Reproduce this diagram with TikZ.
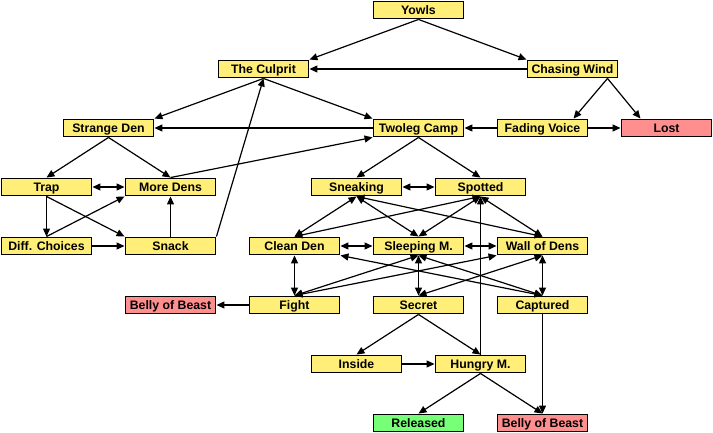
\documentclass[tikz,border=0pt]{standalone}
\usepackage{fontspec}
\setmainfont{Liberation Sans}
\usetikzlibrary{arrows.meta}

\definecolor{boxyellow}{RGB}{255,238,119}
\definecolor{boxred}{RGB}{255,142,142}
\definecolor{boxgreen}{RGB}{119,255,119}

\begin{document}
\begin{tikzpicture}[
    x=1pt, y=-1pt,
    every node/.style={font=\fontsize{12.3}{14}\selectfont\bfseries},
    st/.style={draw, line width=1.4pt, fill=boxyellow, minimum width=90.5pt, minimum height=17.5pt, inner sep=0pt, text height=8.8pt, text depth=0pt, align=center},
    bad/.style={st, fill=boxred},
    good/.style={st, fill=boxgreen},
    a/.style={-{Triangle[length=8pt,width=7pt]}, line width=1.2pt},
    b/.style={{Triangle[length=8pt,width=7pt]}-{Triangle[length=8pt,width=7pt]}, line width=1.2pt}
]
\useasboundingbox (0,0) rectangle (713,433);
% top
\node[st] (yowls)   at (418.5,10)  {Yowls};
\node[st] (culprit) at (263.5,69)  {The Culprit};
\node[st] (chasing) at (572.5,69)  {Chasing Wind};
\node[st] (strange) at (108.5,128) {Strange Den};
\node[st] (twoleg)  at (418.5,128) {Twoleg Camp};
\node[st] (fading)  at (542.5,128) {Fading Voice};
\node[bad] (lost)   at (666.5,128) {Lost};
% left group
\node[st] (trap)     at (46.5,187)  {Trap};
\node[st] (moredens) at (170.5,187) {More Dens};
\node[st] (diff)     at (46.5,246)  {Diff. Choices};
\node[st] (snack)    at (170.5,246) {Snack};
% middle group
\node[st] (sneaking) at (356.5,187) {Sneaking};
\node[st] (spotted)  at (480.5,187) {Spotted};
\node[st] (clean)    at (294.5,246) {Clean Den};
\node[st] (sleeping) at (418.5,246) {Sleeping M.};
\node[st] (wall)     at (542.5,246) {Wall of Dens};
\node[bad] (bellyA)  at (170.5,305) {Belly of Beast};
\node[st] (fight)    at (294.5,305) {Fight};
\node[st] (secret)   at (418.5,305) {Secret};
\node[st] (captured) at (542.5,305) {Captured};
% bottom
\node[st] (inside)   at (356.5,364) {Inside};
\node[st] (hungry)   at (480.5,364) {Hungry M.};
\node[good] (released) at (418.5,423) {Released};
\node[bad] (bellyB)  at (542.5,423) {Belly of Beast};

\draw[a] (yowls.south)--(culprit.north east); \draw[a] (yowls.south)--(chasing.north west);
\draw[a] (chasing.west)--(culprit.east);
\draw[a] ([xshift=35pt]chasing.south)--([xshift=31pt]fading.north);
\draw[a] ([xshift=35pt]chasing.south)--([xshift=-26pt]lost.north);
\draw[a] (fading.west)--(twoleg.east); \draw[a] (fading.east)--(lost.west);
\draw[a] (culprit.south)--(strange.north east); \draw[a] (culprit.south)--(twoleg.north west);
\draw[a] (twoleg.west)--(strange.east);
\draw[a] (strange.south)--(trap.north); \draw[a] (strange.south)--(moredens.north);
\draw[a] (moredens.north)--(twoleg.south west);
\draw[b] (trap.east)--(moredens.west);
\draw[a] (trap.south)--(diff.north); \draw[a] (trap.south)--(snack.north west);
\draw[a] (diff.north)--(moredens.south west); \draw[a] (diff.east)--(snack.west);
\draw[a] (snack.north)--(moredens.south);
\draw[a] (snack.north east)--(culprit.south);
\draw[a] (twoleg.south)--(sneaking.north); \draw[a] (twoleg.south)--(spotted.north);
\draw[b] (sneaking.east)--(spotted.west);
\draw[b] (sneaking.south)--(clean.north); \draw[b] (sneaking.south)--(sleeping.north);
\draw[b] (sneaking.south)--(wall.north);
\draw[b] (spotted.south)--(clean.north); \draw[b] (spotted.south)--(sleeping.north);
\draw[b] (spotted.south)--(wall.north);
\draw[b] (clean.east)--(sleeping.west); \draw[b] (sleeping.east)--(wall.west);
\draw[b] (clean.south)--(fight.north);
\draw[b] (fight.north)--(sleeping.south); \draw[b] (fight.north)--(wall.south west);
\draw[b] (captured.north)--(clean.south east); \draw[b] (captured.north)--(sleeping.south);
\draw[b] (sleeping.south)--(secret.north); \draw[b] (wall.south)--(secret.north);
\draw[b] (wall.south)--(captured.north);
\draw[a] (fight.west)--(bellyA.east);
\draw[a] (secret.south)--(inside.north); \draw[a] (secret.south)--(hungry.north);
\draw[a] (inside.east)--(hungry.west);
\draw[a] (hungry.north)--(spotted.south);
\draw[a] (hungry.south)--(released.north); \draw[a] (hungry.south)--(bellyB.north);
\draw[a] (captured.south)--(bellyB.north);
\end{tikzpicture}
\end{document}
